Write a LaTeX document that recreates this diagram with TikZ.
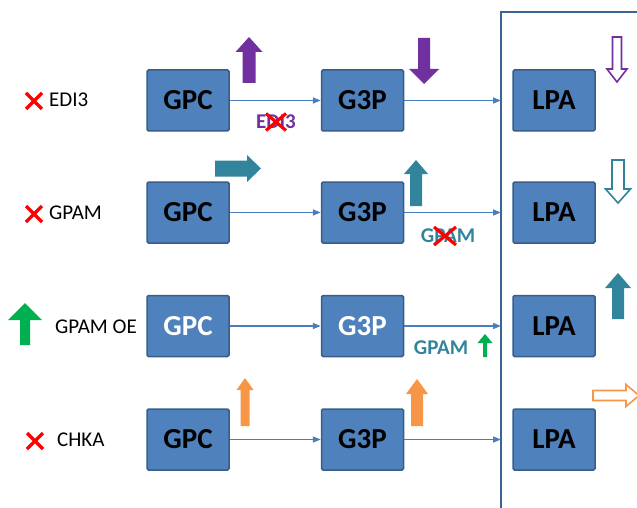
\documentclass[tikz,border=0pt]{standalone}
\usepackage{fontspec}
\setmainfont{Carlito}
\usetikzlibrary{arrows.meta,calc}
\definecolor{boxfill}{HTML}{4F81BD}
\definecolor{boxline}{HTML}{385D8A}
\definecolor{conn}{HTML}{4A7EBB}
\definecolor{vline}{HTML}{3B6496}
\definecolor{purp}{HTML}{7030A0}
\definecolor{teal2}{HTML}{31849B}
\definecolor{orng}{HTML}{F79646}
\definecolor{grn}{HTML}{00B050}
\definecolor{redx}{HTML}{FF0000}
% #1 style, #2 tail point, #3 angle, #4 length, #5 shaft half width, #6 head half width, #7 head length
\newcommand{\fatarrow}[7]{%
  \begin{scope}[shift={#2}, rotate=#3]
    \path[#1] (0,-#5) -- ({#4-#7},-#5) -- ({#4-#7},-#6) -- (#4,0) -- ({#4-#7},#6) -- ({#4-#7},#5) -- (0,#5) -- cycle;
  \end{scope}}
\newcommand{\redcross}[3]{%
  \draw[xmark] ($(#1)+(-#2,-#3)$) -- ($(#1)+(#2,#3)$);
  \draw[xmark] ($(#1)+(-#2,#3)$) -- ($(#1)+(#2,-#3)$);}
\begin{document}
\begin{tikzpicture}[x=1pt,y=-1pt,
  box/.style={draw=boxline, line width=1.5pt, fill=boxfill, rounded corners=1.5pt,
    minimum width=82pt, minimum height=61pt, inner sep=0pt,
    font=\fontsize{29}{32}\selectfont\bfseries},
  conn/.style={draw=conn, line width=1.5pt, -{Triangle[length=8pt,width=6pt]}},
  lbl/.style={anchor=west, inner sep=0pt, font=\fontsize{21}{23}\selectfont},
  enz/.style={inner sep=0pt, font=\fontsize{21}{23}\selectfont\bfseries},
  xmark/.style={draw=redx, line width=3.2pt},
  solidp/.style={fill=purp},
  solidt/.style={fill=teal2},
  solido/.style={fill=orng},
  solidg/.style={fill=grn},
  hollow/.style={draw=#1, fill=white, line width=1.6pt, line join=miter}
]
\useasboundingbox (0,0) rectangle (637,508);

% frame line
\coordinate (vtop) at (501,12);
\coordinate (vbot) at (501,508);
\coordinate (tright) at (637,12);
\draw[vline, line width=2pt] (vbot) -- (vtop) -- (tright);

% boxes
\node[box] (a1) at (188,100.5) {GPC};
\node[box] (b1) at (362.5,100.5) {G3P};
\node[box] (c1) at (554,100.5) {LPA};
\node[box] (a2) at (188,212.5) {GPC};
\node[box] (b2) at (362.5,212.5) {G3P};
\node[box] (c2) at (554,212.5) {LPA};
\node[box, text=white] (a3) at (188,326) {GPC};
\node[box, text=white] (b3) at (362.5,326) {G3P};
\node[box] (c3) at (554,326) {LPA};
\node[box] (a4) at (188,439.5) {GPC};
\node[box] (b4) at (362.5,439.5) {G3P};
\node[box] (c4) at (554,439.5) {LPA};

% connectors
\foreach \i in {1,2,3,4}{
  \draw[conn] (a\i.east) -- (b\i.west);
  \draw[conn] (b\i.east) -- (b\i.east -| vtop);
}

% left labels
\node[lbl] (l1) at (49,100) {EDI3};
\node[lbl] (l2) at (49,213) {GPAM};
\node[lbl] (l3) at (55,327) {GPAM OE};
\node[lbl] (l4) at (57,440) {CHKA};
\coordinate (x1) at (34,101);
\coordinate (x2) at (34,214);
\coordinate (x4) at (35,441);
\redcross{x1}{8}{8}
\redcross{x2}{8}{8}
\redcross{x4}{8}{8}
\fatarrow{solidg}{(25,345)}{90}{42}{5}{17}{17}

% row 1
\fatarrow{solidp}{(249,83)}{90}{46}{6.5}{13.5}{15}
\fatarrow{solidp}{(424,38)}{-90}{46}{6}{15}{15}
\fatarrow{hollow=purp}{(617,37)}{-90}{45}{4.5}{10}{13}
\node[enz, text=purp] (e1) at (276,122) {EDI3};
\coordinate (xe1) at (276,122);
\redcross{xe1}{10}{8.5}

% row 2
\fatarrow{solidt}{(215,168.5)}{0}{46}{8}{13.5}{14}
\fatarrow{solidt}{(416,206)}{90}{46}{6}{12}{14}
\fatarrow{hollow=teal2}{(618,160)}{-90}{43}{6}{12.5}{14}
\node[enz, text=teal2] (e2) at (448,236) {GPAM};
\coordinate (xe2) at (445,236);
\redcross{xe2}{11}{9}

% row 3
\node[enz, text=teal2] (e3) at (441,348) {GPAM};
\fatarrow{solidg}{(485,357)}{90}{23}{2}{7.5}{9}
\fatarrow{solidt}{(618,319)}{90}{46}{6}{13}{15}

% row 4
\fatarrow{solido}{(245,426)}{90}{48}{4.5}{8.5}{12}
\fatarrow{solido}{(417,426)}{90}{47}{6}{11}{15}
\begin{scope}
\clip (0,0) rectangle (637,508);
\fatarrow{hollow=orng}{(593,395.5)}{0}{46}{5}{11}{13}
\end{scope}

\end{tikzpicture}
\end{document}
